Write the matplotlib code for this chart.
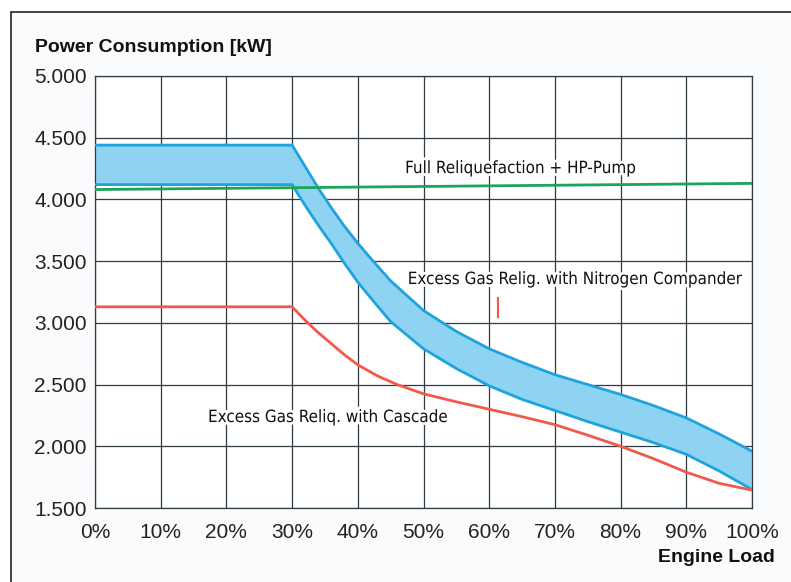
import numpy as np
import matplotlib
matplotlib.use("Agg")
import matplotlib.pyplot as plt
import matplotlib.patches as patches
import matplotlib.patheffects as pe

# engine load [%] and power consumption [kW]
band_load = [0, 30, 32, 34, 36, 38, 40, 42, 45, 50, 55, 60, 65, 70, 75, 80, 85, 90, 95, 100]
band_upper = [4440, 4440, 4265, 4090, 3930, 3780, 3645, 3520, 3340, 3100, 2930, 2790,
              2680, 2580, 2500, 2420, 2330, 2230, 2100, 1960]
band_lower = [4120, 4120, 3950, 3790, 3640, 3480, 3330, 3200, 3010, 2790, 2630, 2490,
              2380, 2290, 2200, 2115, 2030, 1935, 1800, 1650]

casc_load = [0, 30, 32, 34, 36, 38, 40, 43, 46, 50, 55, 60, 65, 70, 75, 80, 85, 90, 95, 100]
casc_power = [3130, 3130, 3020, 2920, 2830, 2740, 2660, 2570, 2500, 2425, 2360, 2300,
              2240, 2175, 2090, 2000, 1900, 1790, 1700, 1645]

full_load = [0, 100]
full_power = [4080, 4130]

# small stray red mark under the compander label
mark_load = [61.4, 61.4]
mark_power = [3200, 3050]

yticks = [1500, 2000, 2500, 3000, 3500, 4000, 4500, 5000]
ytick_labels = ["1.500", "2.000", "2.500", "3.000", "3.500", "4.000", "4.500", "5.000"]
xticks = list(range(0, 101, 10))
xtick_labels = [f"{v}%" for v in xticks]

plt.rcParams['font.family'] = ['Liberation Sans', 'DejaVu Sans']

fig = plt.figure(figsize=(7.91, 5.82), dpi=100, facecolor='white')
# outer frame of the figure box
fig.patches.append(patches.Rectangle((11/791, -0.1), 1.0, 1 - 12/582 + 0.1,
                                     transform=fig.transFigure, facecolor='#fafbfd',
                                     edgecolor='#222222', linewidth=1.2, zorder=-10))

ax = fig.add_axes([95/791, 1 - 508/582, 657/791, 432/582])
ax.set_facecolor('white')

grid_c = '#2e3b40'
ax.set_xlim(0, 100)
ax.set_ylim(1500, 5000)
ax.set_xticks(xticks)
ax.set_xticklabels(xtick_labels)
ax.set_yticks(yticks)
ax.set_yticklabels(ytick_labels)
ax.tick_params(length=0, labelsize=15, colors='#222222')
ax.tick_params(axis='x', pad=11)
ax.tick_params(axis='y', pad=6)
ax.grid(True, color=grid_c, linewidth=0.9)
ax.set_axisbelow(True)
for s in ax.spines.values():
    s.set_color(grid_c)
    s.set_linewidth(0.9)

ax.fill_between(band_load, band_lower, band_upper, color='#8ed4f2', zorder=2)
ax.plot(band_load, band_upper, color='#1ea3dc', lw=2, zorder=3)
ax.plot(band_load, band_lower, color='#1ea3dc', lw=2, zorder=3)
ax.plot(full_load, full_power, color='#1ca45c', lw=2, zorder=4)
ax.plot(casc_load, casc_power, color='#f2594b', lw=2, zorder=4)
ax.plot(mark_load, mark_power, color='#f2594b', lw=1.5, zorder=4)

halo = [pe.withStroke(linewidth=4, foreground='white')]
lab = dict(fontsize=12.2, family='DejaVu Sans', stretch='condensed', va='center', ha='left',
           color='#111111', path_effects=halo, zorder=5)
ax.text(47.2, 4254, "Full Reliquefaction + HP-Pump", **lab)
ax.text(47.6, 3355, "Excess Gas Relig. with Nitrogen Compander", **lab)
ax.text(17.2, 2237, "Excess Gas Reliq. with Cascade", **lab)

fig.text(35/791, 1 - 47/582, "Power Consumption [kW]", fontsize=14, fontweight='bold',
         va='center', ha='left', color='#111111')
fig.text(775/791, 1 - 558/582, "Engine Load", fontsize=14, fontweight='bold',
         va='center', ha='right', color='#111111')

fig.savefig("out.png", dpi=100, facecolor=fig.get_facecolor())
